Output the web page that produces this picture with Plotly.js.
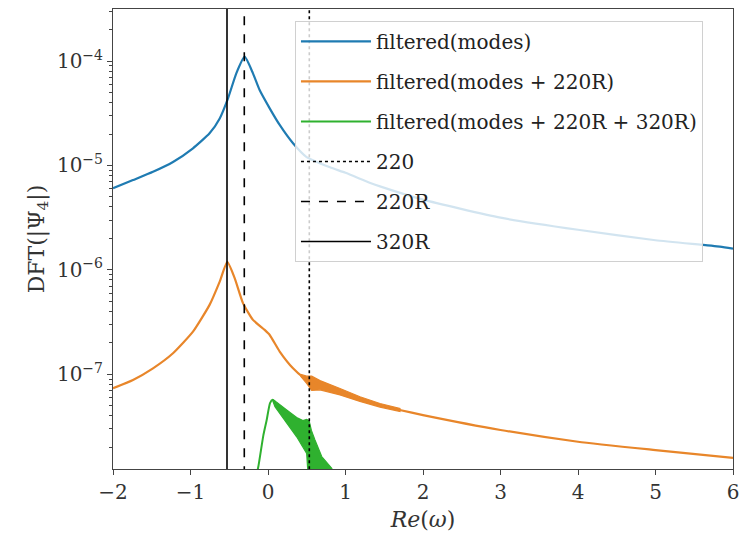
<!DOCTYPE html>
<html>
<head>
<meta charset="utf-8">
<script src="https://cdn.plot.ly/plotly-3.0.1.min.js"></script>
<style>html,body{margin:0;padding:0;background:#fff;}#plot{width:742px;height:543px;}</style>
</head>
<body>
<div id="plot"></div>
<script>
// ---- data ----
const blueX = [-2, -1.742, -1.484, -1.226, -0.968, -0.754, -0.623, -0.516, -0.409, -0.301, -0.194, -0.108, 0.022, 0.151, 0.323, 0.494, 0.8, 1.0, 1.32, 1.445, 2, 3, 4, 5, 5.83, 6];
const blueY = [6.04e-6, 7.24e-6, 8.7e-6, 1.08e-5, 1.46e-5, 2.03e-5, 2.82e-5, 4.39e-5, 7.62e-5, 1.1e-4, 7.62e-5, 5.27e-5, 3.52e-5, 2.44e-5, 1.63e-5, 1.21e-5, 9.6e-6, 8.5e-6, 6.8e-6, 6.3e-6, 4.7e-6, 3.16e-6, 2.42e-6, 1.92e-6, 1.67e-6, 1.6e-6];

const orangeX = [-2, -1.742, -1.484, -1.226, -0.968, -0.754, -0.623, -0.525, -0.43, -0.323, -0.194, -0.043, 0.022, 0.151, 0.323, 0.45, 0.53, 0.67, 0.93, 1.19, 1.445, 1.7, 2, 3, 4, 5, 6];
const orangeY = [7.36e-8, 8.83e-8, 1.14e-7, 1.59e-7, 2.56e-7, 4.62e-7, 7.72e-7, 1.19e-6, 8.32e-7, 4.8e-7, 3.32e-7, 2.66e-7, 2.38e-7, 1.65e-7, 1.14e-7, 9.4e-8, 8.7e-8, 8.0e-8, 6.8e-8, 5.8e-8, 5.05e-8, 4.55e-8, 4.07e-8, 2.93e-8, 2.26e-8, 1.88e-8, 1.58e-8];
// oscillation envelope of the orange curve
const orangeBandX = [0.42, 0.499, 0.564, 0.671, 0.929, 1.187, 1.445, 1.703];
const orangeBandUp = [1.0e-7, 9.6e-8, 9.6e-8, 8.7e-8, 7.3e-8, 6.1e-8, 5.25e-8, 4.7e-8];
const orangeBandLo = [9.6e-8, 8.2e-8, 7.0e-8, 7.1e-8, 6.35e-8, 5.5e-8, 4.85e-8, 4.4e-8];

const greenX = [-0.16, -0.125, -0.06, -0.017, 0.026, 0.06, 0.09];
const greenY = [1.0e-8, 1.3e-8, 2.6e-8, 3.65e-8, 5.3e-8, 5.7e-8, 5.5e-8];
// oscillation envelope of the green curve
const greenUpX = [0.06, 0.112, 0.241, 0.37, 0.45, 0.499, 0.53, 0.56, 0.606, 0.693, 0.822, 0.85];
const greenUpY = [5.7e-8, 5.4e-8, 4.55e-8, 3.85e-8, 3.6e-8, 3.7e-8, 3.6e-8, 2.9e-8, 2.35e-8, 1.63e-8, 1.26e-8, 1.1e-8];
const greenLoX = [0.06, 0.09, 0.241, 0.37, 0.499, 0.507, 0.52];
const greenLoY = [5.6e-8, 4.9e-8, 3.4e-8, 2.52e-8, 1.75e-8, 1.3e-8, 1.0e-8];

const modeNames = ['220', '220R', '320R'];
const modeFreqs = [0.533, -0.306, -0.529];
const modeDash = ['dot', 'dash', 'solid'];
const seriesNames = ['filtered(modes)', 'filtered(modes + 220R)', 'filtered(modes + 220R + 320R)'];
const majorTicks = [1e-7, 1e-6, 1e-5, 1e-4];
const majorTickText = ['10<sup>−7</sup>', '10<sup>−6</sup>', '10<sup>−5</sup>', '10<sup>−4</sup>'];
const minorTicks = [2e-8, 3e-8, 4e-8, 5e-8, 6e-8, 7e-8, 8e-8, 9e-8,
  2e-7, 3e-7, 4e-7, 5e-7, 6e-7, 7e-7, 8e-7, 9e-7,
  2e-6, 3e-6, 4e-6, 5e-6, 6e-6, 7e-6, 8e-6, 9e-6,
  2e-5, 3e-5, 4e-5, 5e-5, 6e-5, 7e-5, 8e-5, 9e-5, 2e-4, 3e-4];

const cBlue = '#1f7bb2', cOrange = '#e8862a', cGreen = '#2fb12f';
const yLo = 1e-9, yHi = 1e-3;
const yRange = [-7.907, -3.502];

const traces = [];
traces.push({x: blueX, y: blueY, mode: 'lines', name: seriesNames[0], legendgroup: 'a', line: {color: cBlue, width: 2.2, shape: 'spline', smoothing: 0.5}});
traces.push({x: orangeBandX.concat(orangeBandX.slice().reverse()), y: orangeBandUp.concat(orangeBandLo.slice().reverse()),
  mode: 'lines', fill: 'toself', fillcolor: cOrange, line: {color: cOrange, width: 1.2}, showlegend: false, legendgroup: 'b', hoverinfo: 'skip'});
traces.push({x: orangeX, y: orangeY, mode: 'lines', name: seriesNames[1], legendgroup: 'b', line: {color: cOrange, width: 2.2, shape: 'spline', smoothing: 0.5}});
traces.push({x: greenUpX.concat(greenLoX.slice().reverse()), y: greenUpY.concat(greenLoY.slice().reverse()),
  mode: 'lines', fill: 'toself', fillcolor: cGreen, line: {color: cGreen, width: 1.2}, showlegend: false, legendgroup: 'c', hoverinfo: 'skip'});
traces.push({x: greenX, y: greenY, mode: 'lines', name: seriesNames[2], legendgroup: 'c', line: {color: cGreen, width: 2, shape: 'spline', smoothing: 0.5}});
modeNames.forEach((n, i) => {
  traces.push({x: [modeFreqs[i], modeFreqs[i]], y: [yLo, yHi], mode: 'lines', name: n, legendgroup: 'm' + i,
    line: {color: '#000', width: 1.6, dash: modeDash[i]}});
});
// invisible carrier trace for the minor-tick axis
traces.push({x: [0], y: [1e-6], yaxis: 'y2', mode: 'markers', marker: {opacity: 0}, showlegend: false, hoverinfo: 'skip'});

const serif = '"DejaVu Serif", "Liberation Serif", serif';
const layout = {
  width: 742, height: 543,
  margin: {l: 113, r: 9, t: 9, b: 74},
  paper_bgcolor: '#fff', plot_bgcolor: '#fff',
  font: {family: serif, size: 19, color: '#333'},
  showlegend: true,
  legend: {x: 0.2935, y: 0.974, xanchor: 'left', yanchor: 'top', bgcolor: 'rgba(255,255,255,0.8)',
    bordercolor: '#d0d0d0', borderwidth: 1, traceorder: 'grouped', tracegroupgap: 11,
    font: {family: serif, size: 20, color: '#222'}, itemwidth: 70},
  xaxis: {type: 'linear', range: [-2, 6], dtick: 1, tick0: 0, showgrid: false, zeroline: false,
    showline: true, mirror: true, linecolor: '#444', linewidth: 1, ticks: 'outside', ticklen: 5, tickcolor: '#444',
    tickfont: {family: serif, size: 20, color: '#333'},
    title: {text: '<i>Re</i>(<i>ω</i>)', font: {family: serif, size: 22, color: '#333'}, standoff: 8}},
  yaxis: {type: 'log', range: yRange, tickmode: 'array', tickvals: majorTicks, ticktext: majorTickText,
    showgrid: false, zeroline: false,
    showline: true, mirror: true, linecolor: '#444', linewidth: 1, ticks: 'outside', ticklen: 5, tickcolor: '#444',
    tickfont: {family: serif, size: 20, color: '#333'},
    title: {text: 'DFT(|Ψ<sub>4</sub>|)', font: {family: serif, size: 22, color: '#333'}, standoff: 6}},
  yaxis2: {type: 'log', range: yRange, overlaying: 'y', side: 'left', anchor: 'x', tickmode: 'array', tickvals: minorTicks,
    showticklabels: false, ticks: 'outside', ticklen: 3, tickwidth: 1, tickcolor: '#444', showgrid: false, zeroline: false, showline: false}
};
Plotly.newPlot('plot', traces, layout, {displayModeBar: false, staticPlot: true}).then(gd => {
  // lengthen the legend line samples like the reference
  gd.querySelectorAll('.legend .traces .legendlines path').forEach(p => {
    const d = p.getAttribute('d');
    if (d && /^M5,0h30$/.test(d)) p.setAttribute('d', 'M10,0h50');
  });
});
</script>
</body>
</html>
